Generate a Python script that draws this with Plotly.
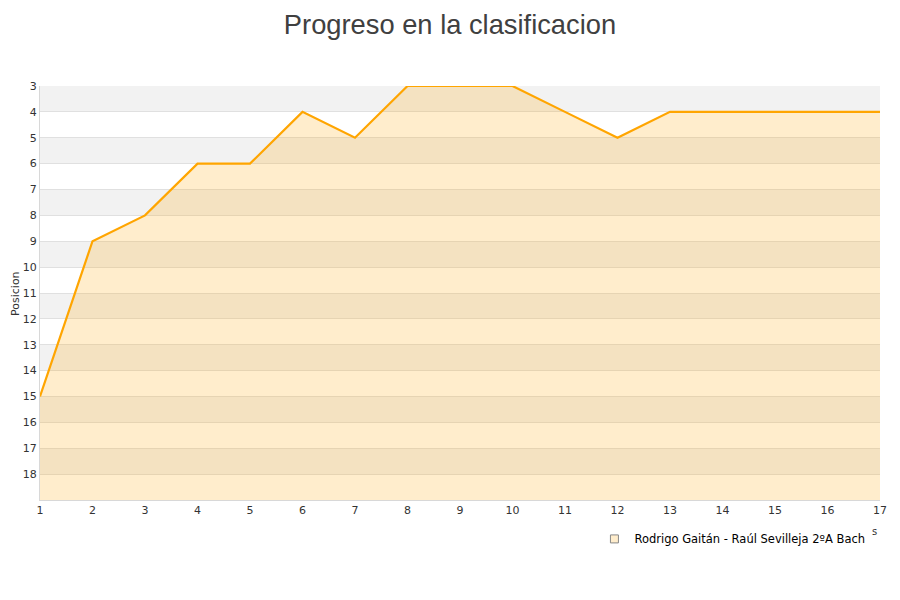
import plotly.graph_objects as go

jornadas = list(range(1, 18))
posiciones = [15, 9, 8, 6, 6, 4, 5, 3, 3, 3, 4, 5, 4, 4, 4, 4, 4]
serie = "Rodrigo Gaitán - Raúl Sevilleja 2ºA Bach"
y_min, y_max = 3, 19
y_ticks = list(range(3, 19))

W, H = 892, 592  # page body adds an 8px offset

fig = go.Figure()

# baseline for filled area
fig.add_trace(go.Scatter(x=jornadas, y=[y_max] * len(jornadas), mode="lines",
                         line=dict(width=0, color="rgba(0,0,0,0)"),
                         showlegend=False, hoverinfo="skip"))
fig.add_trace(go.Scatter(x=jornadas, y=posiciones, mode="lines",
                         line=dict(color="#FFA500", width=2.2),
                         fill="tonexty", fillcolor="rgba(255,165,0,0.2)",
                         showlegend=False, name=serie))
# legend entry
fig.add_trace(go.Scatter(x=[None], y=[None], mode="markers", name=serie,
                         marker=dict(symbol="square", size=8, color="#FFEDCC",
                                     line=dict(color="#888888", width=1))))

shapes = []
for k in range(y_min, y_max - 1, 2):
    shapes.append(dict(type="rect", xref="paper", yref="y", x0=0, x1=1, y0=k, y1=k + 1,
                       fillcolor="#f2f2f2", line=dict(width=0), layer="below"))
fig.update_layout(shapes=shapes)

fig.add_annotation(text="s", xref="paper", yref="paper", x=0.994, y=-0.075,
                   xanchor="center", yanchor="middle", showarrow=False,
                   font=dict(family="DejaVu Sans", size=10, color="#333333"))
fig.add_annotation(text="Posicion", xref="paper", yref="paper", x=-0.0298, y=0.5,
                   xanchor="center", yanchor="middle", showarrow=False, textangle=-90,
                   font=dict(family="DejaVu Sans", size=11, color="#333333"))

fig.update_layout(
    width=W, height=H,
    paper_bgcolor="white", plot_bgcolor="rgba(0,0,0,0)",
    margin=dict(l=32, r=20, t=78, b=100, autoexpand=False),
    title=dict(text="Progreso en la clasificacion", x=0.4955, xanchor="center", y=0.972, yanchor="middle",
               font=dict(family="Liberation Sans, Arial", size=27.3, color="#404040")),
    font=dict(family="DejaVu Sans", size=11, color="#333333"),
    xaxis=dict(range=[1, 17], tickvals=jornadas, showgrid=False, zeroline=False, automargin=False,
               showline=True, linecolor="#d8d8d8", linewidth=1, ticks="",
               tickfont=dict(size=11, color="#333333")),
    yaxis=dict(range=[y_max, y_min], tickvals=y_ticks, showgrid=True, gridcolor="#e0e0e0",
               gridwidth=1, zeroline=False, showline=True, linecolor="#d8d8d8", linewidth=1,
               ticks="", automargin=False, tickfont=dict(size=11, color="#333333")),
    legend=dict(orientation="h", x=0.9886, xanchor="right", y=-0.094, yanchor="middle",
                font=dict(family="DejaVu Sans", size=11.5, color="#000000"),
                bgcolor="rgba(0,0,0,0)"),
)

fig.write_html("out.html")
